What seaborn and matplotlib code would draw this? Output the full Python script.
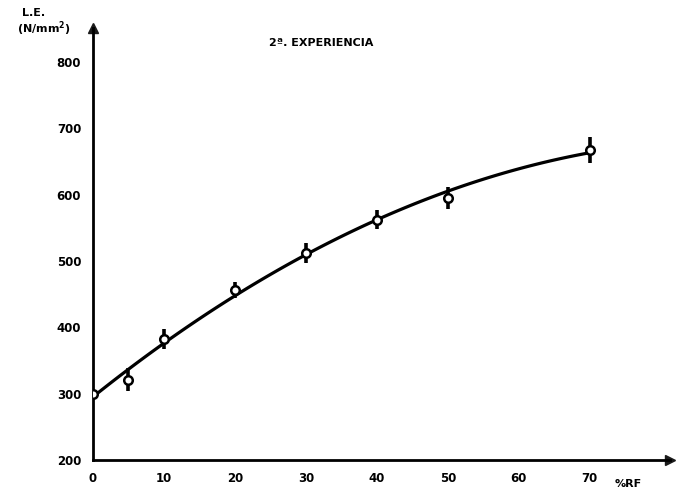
import numpy as np
import pandas as pd
import matplotlib
matplotlib.use("Agg")
import matplotlib.pyplot as plt
import seaborn as sns

# Yield strength vs. percentage of RF
rf_pct = [0, 5, 10, 20, 30, 40, 50, 70]
yield_strength = [300, 321, 382, 456, 512, 562, 595, 667]
err = [0, 17, 15, 12, 15, 14, 17, 20]
x_ticks = [0, 10, 20, 30, 40, 50, 60, 70]
y_ticks = [200, 300, 400, 500, 600, 700, 800]

df = pd.DataFrame({"rf": rf_pct, "le": yield_strength, "err": err})

sns.set_theme(style="white")
plt.rcParams["font.family"] = ["DejaVu Sans"]
plt.rcParams["text.color"] = "black"

fig = plt.figure(figsize=(6.81, 5.01), dpi=100)
ax = fig.add_axes([93 / 681, 41 / 501, 577 / 681, 432 / 501])

# smooth second-order trend through the measurements
sns.regplot(data=df, x="rf", y="le", order=2, ci=None, scatter=False,
            truncate=True, ax=ax,
            line_kws=dict(color="black", lw=2.3, solid_capstyle="round"))

ax.errorbar(df["rf"], df["le"], yerr=df["err"], fmt="none",
            ecolor="black", elinewidth=2.6, capsize=0, zorder=3)
sns.scatterplot(data=df, x="rf", y="le", ax=ax, s=38, marker="o",
                facecolor="white", edgecolor="black", linewidth=1.8,
                zorder=4)

ax.set_xlim(0, 81.3)
ax.set_ylim(200, 851)
ax.set_xticks(x_ticks)
ax.set_yticks(y_ticks)
ax.set_xticklabels([str(v) for v in x_ticks], fontsize=8.5, fontweight="heavy")
ax.set_yticklabels([str(v) for v in y_ticks], fontsize=8.5, fontweight="heavy")
ax.tick_params(axis="both", length=5, width=1.5, color="black",
               labelcolor="black", direction="inout", pad=6)
ax.set_xlabel("")
ax.set_ylabel("")

for side in ["top", "right"]:
    ax.spines[side].set_visible(False)
for side in ["left", "bottom"]:
    ax.spines[side].set_color("black")
    ax.spines[side].set_linewidth(2.0)

# arrow heads at the axis ends
ax.plot(1, 0, ">k", markersize=7, transform=ax.transAxes, clip_on=False)
ax.plot(0, 1, "^k", markersize=7, transform=ax.transAxes, clip_on=False)

fig.text(34 / 681, 1 - 13 / 501, "L.E.", fontsize=8, fontweight="heavy",
         ha="center", va="center")
fig.text(44 / 681, 1 - 29 / 501, "(N/mm$^\\mathbf{2}$)", fontsize=8,
         fontweight="heavy", ha="center", va="center")
fig.text(321 / 681, 1 - 43 / 501, "2ª. EXPERIENCIA", fontsize=8,
         fontweight="heavy", ha="center", va="center")
fig.text(628 / 681, 1 - 484 / 501, "%RF", fontsize=8, fontweight="heavy",
         ha="center", va="center")

fig.savefig("out.png", dpi=100, facecolor="white")
